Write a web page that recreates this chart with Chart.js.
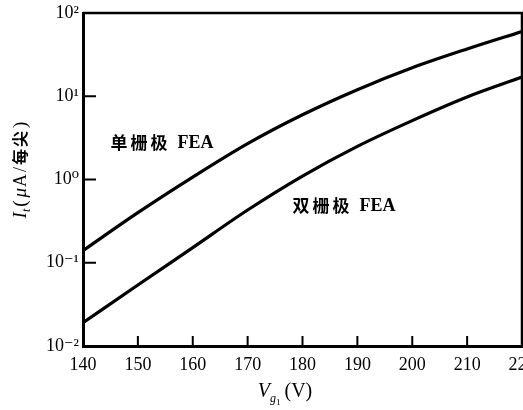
<!DOCTYPE html>
<html>
<head>
<meta charset="utf-8">
<script src="https://cdn.jsdelivr.net/npm/chart.js@4/dist/chart.umd.min.js"></script>
<style>
  html, body { margin: 0; padding: 0; background: #fff; }
  #wrap { width: 523px; height: 410px; }
</style>
</head>
<body>
<div id="wrap"><canvas id="c" width="523" height="410"></canvas></div>
<script>
// Gate voltage (V)
const voltages = [140, 150, 160, 170, 180, 190, 200, 210, 220];
// Emission current per tip (μA), single-gate FEA
const singleGate = [0.14, 0.40, 1.07, 2.7, 6.0, 12, 22, 37, 60];
// Emission current per tip (μA), double-gate FEA
const doubleGate = [0.019, 0.054, 0.152, 0.43, 1.1, 2.5, 5.1, 9.8, 17];

const xTickValues = [140, 150, 160, 170, 180, 190, 200, 210, 220];
const yTickValues = [0.01, 0.1, 1, 10, 100];
const yTickLabels = ['10⁻²', '10⁻¹', '10⁰', '10¹', '10²'];
const curveNames = ['单栅极 FEA', '双栅极 FEA'];

const SERIF = "'Liberation Serif', 'DejaVu Serif', serif";
const CJK = "'Noto Sans CJK SC', sans-serif";

// Curve captions, anchored in data units (left edge, vertical centre)
const captionAnchors = [
  { x: 145, y: 2.8 },
  { x: 178.2, y: 0.49 }
];

function drawRuns(ctx, runs, x, y) {
  let cx = x;
  for (const r of runs) {
    ctx.font = r.font;
    ctx.fillText(r.text, cx, y + (r.dy || 0));
    cx += ctx.measureText(r.text).width + (r.gap || 0);
  }
  return cx - x;
}
function measureRuns(ctx, runs) {
  let w = 0;
  for (const r of runs) {
    ctx.font = r.font;
    w += ctx.measureText(r.text).width + (r.gap || 0);
  }
  return w;
}

const framePlugin = {
  id: 'frame',
  afterDatasetsDraw(chart) {
    const { ctx, chartArea: a, scales } = chart;
    ctx.save();
    ctx.strokeStyle = '#000';
    ctx.lineCap = 'butt';
    // top and right edges of the frame
    ctx.lineWidth = 2.5;
    ctx.beginPath();
    ctx.moveTo(a.left, a.top);
    ctx.lineTo(a.right, a.top);
    ctx.lineTo(a.right, a.bottom);
    ctx.stroke();
    // inward tick marks
    ctx.lineWidth = 2;
    ctx.beginPath();
    for (const v of xTickValues) {
      const px = scales.x.getPixelForValue(v);
      ctx.moveTo(px, a.bottom);
      ctx.lineTo(px, a.bottom - 10);
    }
    for (const v of yTickValues) {
      const py = scales.y.getPixelForValue(v);
      ctx.moveTo(a.left, py);
      ctx.lineTo(a.left + 13, py);
    }
    ctx.stroke();

    // curve captions
    ctx.fillStyle = '#000';
    ctx.textBaseline = 'middle';
    curveNames.forEach((name, i) => {
      const px = scales.x.getPixelForValue(captionAnchors[i].x);
      const py = scales.y.getPixelForValue(captionAnchors[i].y);
      const [cjk, latin] = name.split(' ');
      let cx = px;
      ctx.font = 'bold 17px ' + CJK;
      for (const ch of Array.from(cjk)) {
        ctx.fillText(ch, cx, py);
        cx += ctx.measureText(ch).width + 3;
      }
      cx += 7;
      ctx.font = 'bold 18px ' + SERIF;
      ctx.fillText(latin, cx, py + 1);
    });
    ctx.restore();
  },
  afterDraw(chart) {
    const { ctx } = chart;
    ctx.save();
    ctx.fillStyle = '#000';
    ctx.textBaseline = 'alphabetic';

    // x-axis title: V_g1 (V)
    const xRuns = [
      { text: 'V', font: 'italic 20px ' + SERIF },
      { text: 'g', font: 'italic 12px ' + SERIF, dy: 5 },
      { text: '1', font: '9px ' + SERIF, dy: 8, gap: 4 },
      { text: '(V)', font: '20px ' + SERIF }
    ];
    const xw = measureRuns(ctx, xRuns);
    drawRuns(ctx, xRuns, 285 - xw / 2, 397);

    // y-axis title: I_t (μA/每尖), rotated
    const yRuns = [
      { text: 'I', font: 'italic 19px ' + SERIF },
      { text: 't', font: 'italic 12px ' + SERIF, dy: 4, gap: 2 },
      { text: '(', font: '19px ' + SERIF, gap: 3 },
      { text: 'μ', font: 'italic 19px ' + SERIF, gap: 1 },
      { text: 'A', font: '18px ' + SERIF, gap: 2 },
      { text: '/', font: '18px ' + SERIF, gap: 2 },
      { text: '每', font: 'bold 16px ' + CJK, gap: 2 },
      { text: '尖', font: 'bold 16px ' + CJK, gap: 3 },
      { text: ')', font: '19px ' + SERIF }
    ];
    ctx.translate(26, 170);
    ctx.rotate(-Math.PI / 2);
    const yw = measureRuns(ctx, yRuns);
    drawRuns(ctx, yRuns, -yw / 2, 0);
    ctx.restore();
  }
};

Chart.defaults.font.family = SERIF;
Chart.defaults.font.size = 18;
Chart.defaults.color = '#000';

const lineStyle = {
  borderColor: '#000',
  borderWidth: 3.2,
  pointRadius: 0,
  fill: false,
  cubicInterpolationMode: 'monotone'
};

new Chart(document.getElementById('c'), {
  type: 'line',
  data: {
    datasets: [
      Object.assign({ label: curveNames[0], data: voltages.map((v, i) => ({ x: v, y: singleGate[i] })) }, lineStyle),
      Object.assign({ label: curveNames[1], data: voltages.map((v, i) => ({ x: v, y: doubleGate[i] })) }, lineStyle)
    ]
  },
  options: {
    responsive: false,
    animation: false,
    devicePixelRatio: 1,
    layout: { padding: { left: 0, top: 13, right: 1, bottom: 0 } },
    plugins: { legend: { display: false }, tooltip: { enabled: false } },
    scales: {
      x: {
        type: 'linear',
        min: 140,
        max: 220,
        grid: { display: false, drawTicks: false },
        border: { display: true, color: '#000', width: 3 },
        ticks: { padding: 8, maxRotation: 0, autoSkip: false, font: { size: 18 } },
        afterBuildTicks(scale) { scale.ticks = xTickValues.map(v => ({ value: v })); },
        afterFit(scale) { scale.height = 64; scale.paddingLeft = 0; scale.paddingRight = 0; }
      },
      y: {
        type: 'logarithmic',
        min: 0.01,
        max: 100,
        grid: { display: false, drawTicks: false },
        border: { display: true, color: '#000', width: 3 },
        ticks: {
          padding: 4,
          font: { size: 18 },
          callback(value) {
            const i = yTickValues.findIndex(t => Math.abs(Math.log10(t) - Math.log10(value)) < 1e-6);
            return i >= 0 ? yTickLabels[i] : '';
          }
        },
        afterBuildTicks(scale) { scale.ticks = yTickValues.map(v => ({ value: v })); },
        afterFit(scale) { scale.width = 83; scale.paddingTop = 0; scale.paddingBottom = 0; }
      }
    }
  },
  plugins: [framePlugin]
});
</script>
</body>
</html>
